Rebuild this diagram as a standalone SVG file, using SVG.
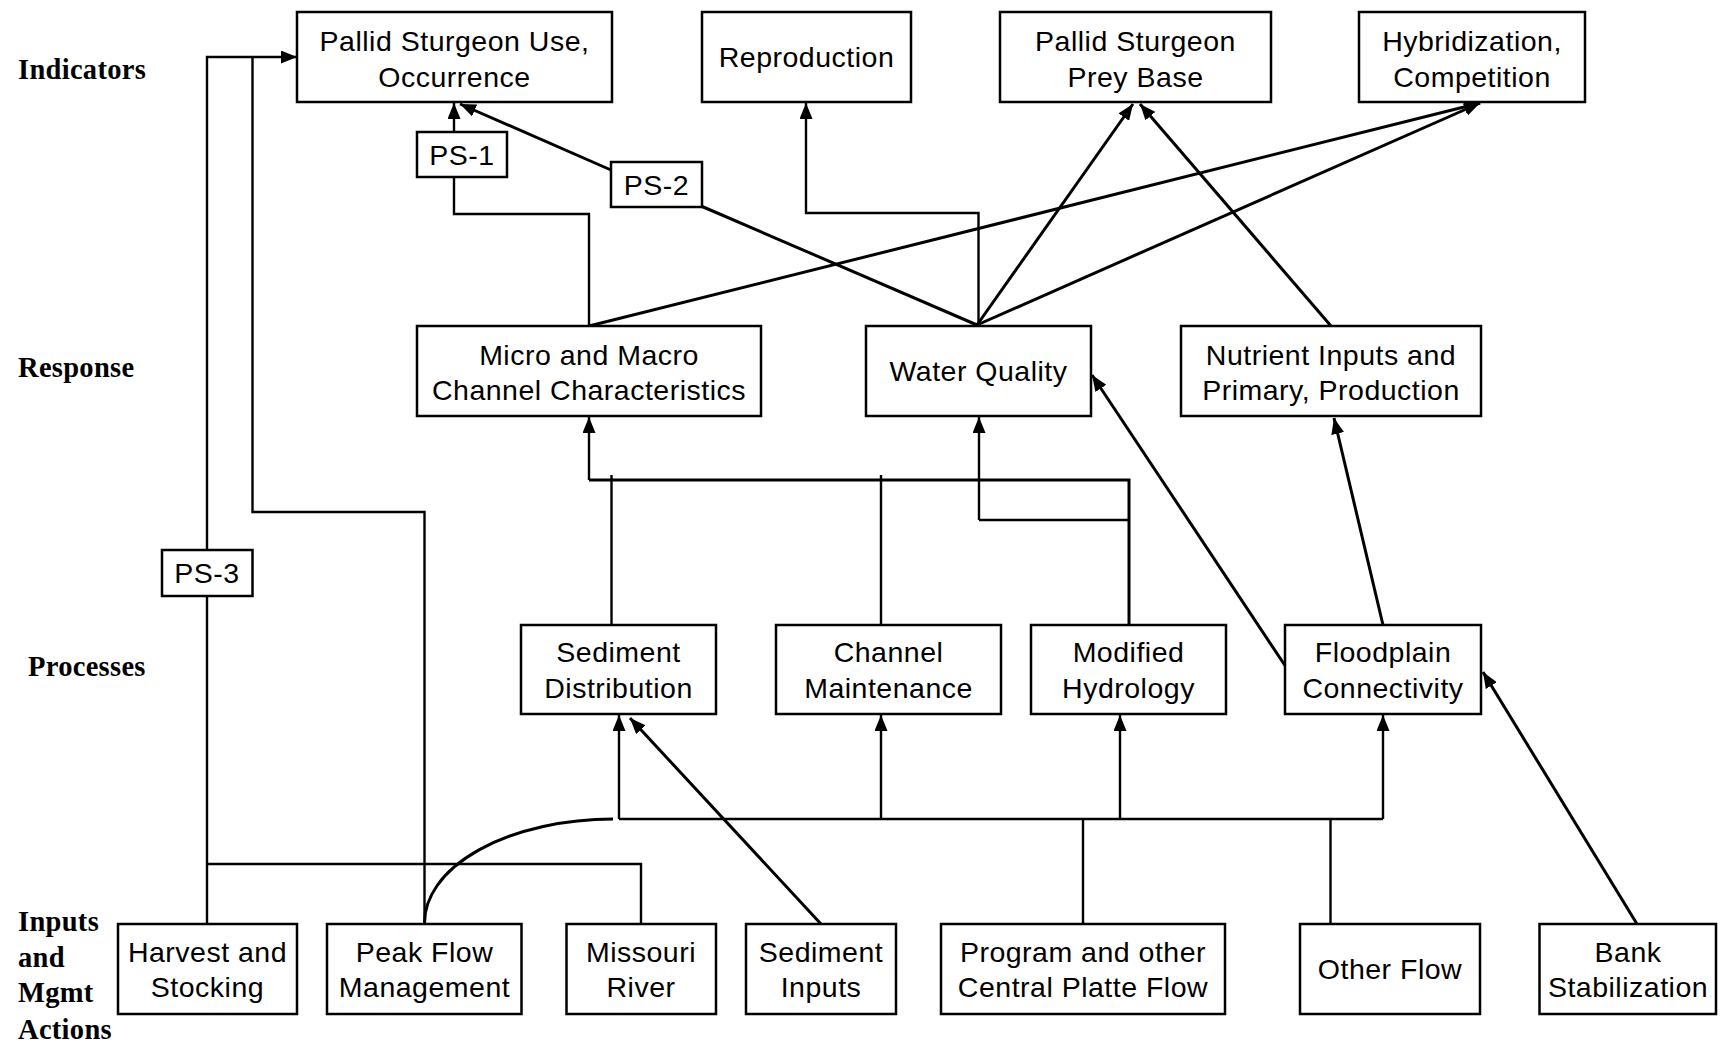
<svg xmlns="http://www.w3.org/2000/svg" width="1733" height="1045" viewBox="0 0 1733 1045">
<style>
.box{fill:#fff;stroke:#000;stroke-width:2.5}
.t{font-family:"Liberation Sans",Arial,sans-serif;font-size:28.5px;letter-spacing:0.5px;text-anchor:middle;fill:#000}
.lab{font-family:"Liberation Serif","Times New Roman",serif;font-size:28.5px;font-weight:bold;letter-spacing:0.3px;fill:#000}
.c{fill:none;stroke:#000;stroke-width:2.4}
.d{fill:none;stroke:#000;stroke-width:3}
</style>
<defs>
<marker id="ah" viewBox="0 0 16 13" refX="16" refY="6.5" markerWidth="16" markerHeight="13" markerUnits="userSpaceOnUse" orient="auto">
<path d="M0,0 L16,6.5 L0,13 z" fill="#000"/>
</marker>
</defs>
<rect width="1733" height="1045" fill="#fff"/>
<g id="labels">
<text class="lab" x="18" y="79">Indicators</text>
<text class="lab" x="18" y="377">Response</text>
<text class="lab" x="28" y="676">Processes</text>
<text class="lab" x="18" y="931">Inputs</text>
<text class="lab" x="18" y="967">and</text>
<text class="lab" x="18" y="1002">Mgmt</text>
<text class="lab" x="18" y="1039">Actions</text>
</g>
<g id="connectors">
<path class="c" d="M207,924 V596"/>
<path class="c" d="M207,550 V57 H297" marker-end="url(#ah)"/>
<path class="c" d="M207,864 H641 V924"/>
<path class="c" d="M424.5,924 V512 H252.5 V57"/>
<path class="d" d="M424.5,924 A189,104 0 0 1 613,819"/>
<path class="c" d="M589,326 V214 H454 V177"/>
<path class="c" d="M454,132 V103" marker-end="url(#ah)"/>
<path class="d" d="M977,325 L701,206"/>
<path class="d" d="M611,170 L460,104" marker-end="url(#ah)"/>
<path class="d" d="M589,326 L1480,103" marker-end="url(#ah)"/>
<path class="d" d="M977,325 L1133,104" marker-end="url(#ah)"/>
<path class="d" d="M977,325 L1480,103" marker-end="url(#ah)"/>
<path class="c" d="M978.5,326 V213 H806 V103" marker-end="url(#ah)"/>
<path class="d" d="M1331,326 L1140,104" marker-end="url(#ah)"/>
<path class="d" d="M1286,667 L1092,375" marker-end="url(#ah)"/>
<path class="d" d="M1383,625 L1334,418" marker-end="url(#ah)"/>
<path class="d" d="M1637,924 L1483,672" marker-end="url(#ah)"/>
<path class="d" d="M821,924 L630,718" marker-end="url(#ah)"/>
<path class="c" d="M619,819 H1383"/>
<path class="c" d="M619,819 V715" marker-end="url(#ah)"/>
<path class="c" d="M881,819 V715" marker-end="url(#ah)"/>
<path class="c" d="M1120,819 V715" marker-end="url(#ah)"/>
<path class="c" d="M1383,819 V715" marker-end="url(#ah)"/>
<path class="c" d="M1083,924 V819"/>
<path class="c" d="M1330.5,924 V819"/>
<path class="c" d="M589,480 V417" marker-end="url(#ah)"/>
<path class="d" d="M589,480 H1129 V625"/>
<path class="c" d="M611.5,475 V625"/>
<path class="c" d="M881,475 V625"/>
<path class="c" d="M979,520 H1129"/>
<path class="c" d="M979,520 V417" marker-end="url(#ah)"/>
</g>
<g id="n-pallid-use"><rect class="box" x="297" y="12" width="315" height="90"/><text class="t" x="454.5" y="51">Pallid Sturgeon Use,</text><text class="t" x="454.5" y="87">Occurrence</text></g>
<g id="n-reproduction"><rect class="box" x="702" y="12" width="209" height="90"/><text class="t" x="806.5" y="67">Reproduction</text></g>
<g id="n-prey-base"><rect class="box" x="1000" y="12" width="271" height="90"/><text class="t" x="1135.5" y="51">Pallid Sturgeon</text><text class="t" x="1135.5" y="87">Prey Base</text></g>
<g id="n-hybridization"><rect class="box" x="1359" y="12" width="226" height="90"/><text class="t" x="1472" y="51">Hybridization,</text><text class="t" x="1472" y="87">Competition</text></g>
<g id="n-ps1"><rect class="box" x="417" y="132" width="90" height="45"/><text class="t" x="462" y="165">PS-1</text></g>
<g id="n-ps2"><rect class="box" x="611" y="162" width="91" height="45"/><text class="t" x="656.5" y="195">PS-2</text></g>
<g id="n-ps3"><rect class="box" x="162" y="550" width="90.5" height="46"/><text class="t" x="207" y="583">PS-3</text></g>
<g id="n-channel-char"><rect class="box" x="417" y="326" width="344" height="90"/><text class="t" x="589" y="365">Micro and Macro</text><text class="t" x="589" y="400">Channel Characteristics</text></g>
<g id="n-water-quality"><rect class="box" x="866" y="326" width="225" height="90"/><text class="t" x="978.5" y="381">Water Quality</text></g>
<g id="n-nutrient"><rect class="box" x="1181" y="326" width="300" height="90"/><text class="t" x="1331" y="365">Nutrient Inputs and</text><text class="t" x="1331" y="400">Primary, Production</text></g>
<g id="n-sediment-dist"><rect class="box" x="521" y="625" width="195" height="89"/><text class="t" x="618.5" y="662">Sediment</text><text class="t" x="618.5" y="698">Distribution</text></g>
<g id="n-channel-maint"><rect class="box" x="776" y="625" width="225" height="89"/><text class="t" x="888.5" y="662">Channel</text><text class="t" x="888.5" y="698">Maintenance</text></g>
<g id="n-modified-hydro"><rect class="box" x="1031" y="625" width="195" height="89"/><text class="t" x="1128.5" y="662">Modified</text><text class="t" x="1128.5" y="698">Hydrology</text></g>
<g id="n-floodplain"><rect class="box" x="1285" y="625" width="196" height="89"/><text class="t" x="1383" y="662">Floodplain</text><text class="t" x="1383" y="698">Connectivity</text></g>
<g id="n-harvest"><rect class="box" x="118" y="924" width="179" height="90"/><text class="t" x="207.5" y="962">Harvest and</text><text class="t" x="207.5" y="997">Stocking</text></g>
<g id="n-peak-flow"><rect class="box" x="327" y="924" width="194.5" height="90"/><text class="t" x="424.5" y="962">Peak Flow</text><text class="t" x="424.5" y="997">Management</text></g>
<g id="n-missouri"><rect class="box" x="566.5" y="924" width="149.5" height="90"/><text class="t" x="641" y="962">Missouri</text><text class="t" x="641" y="997">River</text></g>
<g id="n-sediment-inputs"><rect class="box" x="746" y="924" width="150" height="90"/><text class="t" x="821" y="962">Sediment</text><text class="t" x="821" y="997">Inputs</text></g>
<g id="n-program"><rect class="box" x="941" y="924" width="284" height="90"/><text class="t" x="1083" y="962">Program and other</text><text class="t" x="1083" y="997">Central Platte Flow</text></g>
<g id="n-other-flow"><rect class="box" x="1300" y="924" width="180" height="90"/><text class="t" x="1390" y="979">Other Flow</text></g>
<g id="n-bank"><rect class="box" x="1539.5" y="924" width="176.5" height="90"/><text class="t" x="1628" y="962">Bank</text><text class="t" x="1628" y="997">Stabilization</text></g>
</svg>
